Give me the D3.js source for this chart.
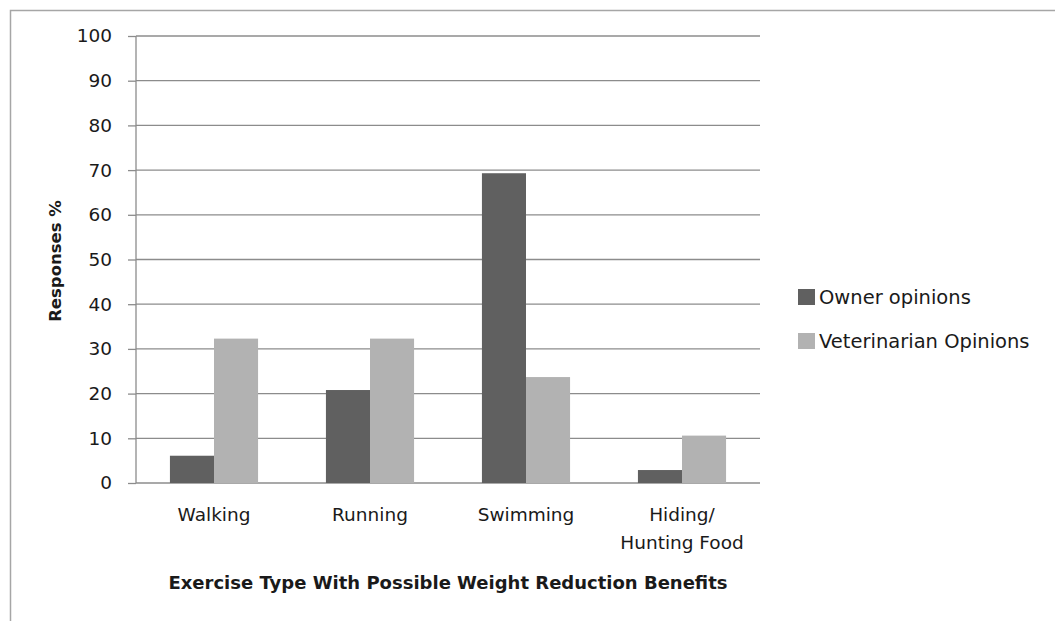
<!DOCTYPE html>
<html>
<head>
<meta charset="utf-8">
<script src="https://cdn.jsdelivr.net/npm/d3@7"></script>
<style>
  body { margin: 0; background: #fff; }
  text { font-family: "DejaVu Sans", sans-serif; fill: #1a1a1a; }
</style>
</head>
<body>
<svg id="chart"></svg>
<script>
const categories = ["Walking", "Running", "Swimming", "Hiding/\nHunting Food"];
const seriesNames = ["Owner opinions", "Veterinarian Opinions"];
const ownerValues = [6.1, 20.8, 69.3, 2.9];
const vetValues = [32.3, 32.3, 23.7, 10.6];
const yTicks = [0, 10, 20, 30, 40, 50, 60, 70, 80, 90, 100];
const colors = ["#606060", "#b2b2b2"];

const width = 1055, height = 621;
const margin = { top: 36, right: 295, bottom: 138, left: 136 };
const chartWidth = width - margin.left - margin.right;
const chartHeight = height - margin.top - margin.bottom;

const svg = d3.select("#chart").attr("width", width).attr("height", height);

// outer chart border (cut off on right/bottom in the original)
svg.append("rect")
  .attr("x", 10.5).attr("y", 10.5)
  .attr("width", 1200).attr("height", 800)
  .attr("fill", "none").attr("stroke", "#a6a6a6").attr("stroke-width", 1.5);

const data = categories.map((c, i) => ({ cat: c, values: [ownerValues[i], vetValues[i]] }));

const x0 = d3.scaleBand().domain(categories).range([0, chartWidth]).padding(0);
const x1 = d3.scaleBand().domain(seriesNames).range([0, x0.bandwidth()])
  .paddingInner(0).paddingOuter(0.77);
const y = d3.scaleLinear().domain([0, 100]).range([chartHeight, 0]);

const g = svg.append("g").attr("transform", `translate(${margin.left},${margin.top})`);

// y axis ticks + labels
g.append("g")
  .call(d3.axisLeft(y).tickValues(yTicks).tickSize(8).tickPadding(16))
  .call(a => a.select(".domain").remove())
  .call(a => a.selectAll(".tick line").attr("stroke", "#8c8c8c").attr("stroke-width", 1.3))
  .call(a => a.selectAll(".tick text").attr("font-size", 18.5).attr("fill", "#1a1a1a")
    .style("font-family", "'DejaVu Sans', sans-serif"));

// gridlines
g.append("g")
  .selectAll("line")
  .data(yTicks)
  .join("line")
    .attr("x1", 0).attr("x2", chartWidth)
    .attr("y1", d => y(d)).attr("y2", d => y(d))
    .attr("stroke", "#8c8c8c").attr("stroke-width", 1.3);

g.append("line")
  .attr("x1", 0).attr("x2", 0).attr("y1", 0).attr("y2", chartHeight)
  .attr("stroke", "#8c8c8c").attr("stroke-width", 1.3);

// bars
g.append("g")
  .selectAll("g")
  .data(data)
  .join("g")
    .attr("transform", d => `translate(${x0(d.cat)},0)`)
  .selectAll("rect")
  .data(d => d.values.map((v, i) => ({ name: seriesNames[i], v, i })))
  .join("rect")
    .attr("x", d => x1(d.name))
    .attr("width", x1.bandwidth())
    .attr("y", d => y(d.v))
    .attr("height", d => y(0) - y(d.v))
    .attr("fill", d => colors[d.i]);

// category labels
const catLabels = g.append("g")
  .selectAll("text")
  .data(categories)
  .join("text")
    .attr("text-anchor", "middle")
    .attr("font-size", 18.5)
    .attr("transform", d => `translate(${x0(d) + x0.bandwidth() / 2},${chartHeight + 38})`);
catLabels.selectAll("tspan")
  .data(d => d.split("\n"))
  .join("tspan")
    .attr("x", 0)
    .attr("dy", (d, i) => i === 0 ? 0 : 28)
    .text(d => d);

// x axis title, word gaps widened a little to match the original width
const xTitle = g.append("text")
  .attr("x", chartWidth / 2)
  .attr("y", chartHeight + 106)
  .attr("text-anchor", "middle")
  .attr("font-size", 18)
  .attr("font-weight", "bold")
  .text("Exercise Type With Possible Weight Reduction Benefits");
const natural = xTitle.node().getComputedTextLength();
xTitle.attr("word-spacing", Math.max(0, (557 - natural) / 6));

// y axis title
svg.append("text")
  .attr("transform", "translate(61,261) rotate(-90)")
  .attr("text-anchor", "middle")
  .attr("font-size", 16.5)
  .attr("font-weight", "bold")
  .text("Responses %");

// legend
const legend = svg.append("g").attr("transform", "translate(798,289)");
const li = legend.selectAll("g")
  .data(seriesNames)
  .join("g")
    .attr("transform", (d, i) => `translate(0,${i * 44})`);
li.append("rect").attr("width", 17).attr("height", 16).attr("fill", (d, i) => colors[i]);
li.append("text").attr("x", 21).attr("y", 14.5).attr("font-size", 19.5).text(d => d);
</script>
</body>
</html>
